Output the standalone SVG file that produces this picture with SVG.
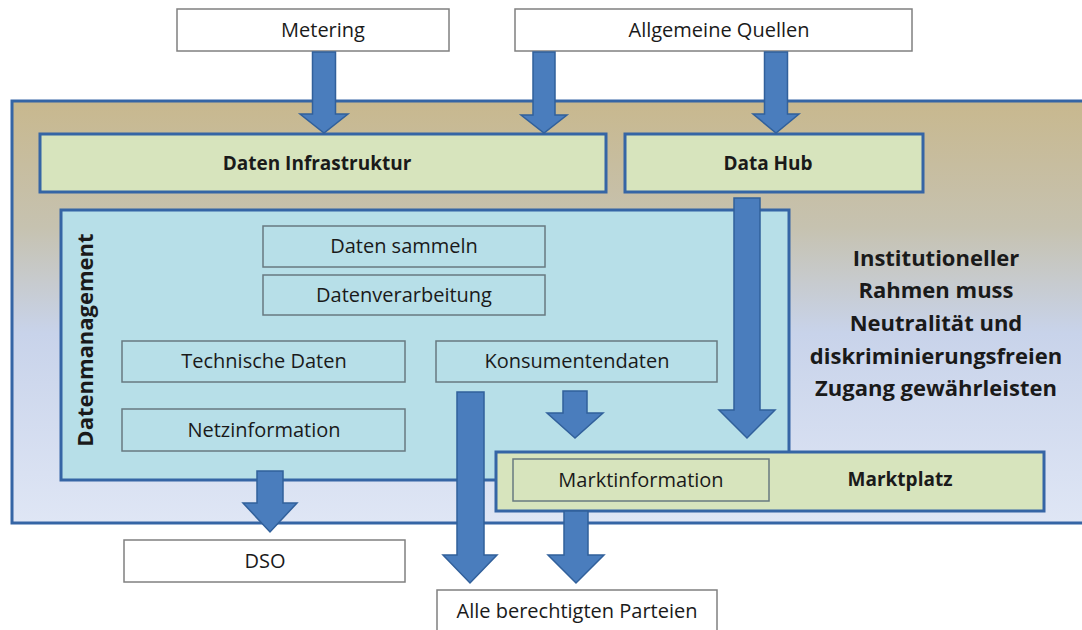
<svg xmlns="http://www.w3.org/2000/svg" width="1082" height="630" viewBox="0 0 1082 630">
  <defs>
    <linearGradient id="frameFill" x1="0" y1="0" x2="0" y2="1">
      <stop offset="0" stop-color="#c8b88e"/>
      <stop offset="0.3" stop-color="#c6c2b0"/>
      <stop offset="0.55" stop-color="#c8d3ea"/>
      <stop offset="1" stop-color="#dfe6f5"/>
    </linearGradient>
    <style>
      .frame { fill: url(#frameFill); stroke: #3565a5; stroke-width: 3; }
      .green { fill: #d7e4bd; stroke: #3565a5; stroke-width: 3; }
      .cyan { fill: #b7dfe8; stroke: #3565a5; stroke-width: 3; }
      .white { fill: #ffffff; stroke: #808080; stroke-width: 1.5; }
      .item { fill: none; stroke: #687a80; stroke-width: 1.5; }
      .arrow { fill: #4a7dbd; stroke: #31609b; stroke-width: 1.5; stroke-linejoin: miter; }
      text { font-family: "Open Sans", "Liberation Sans", sans-serif; fill: #1a1a1a; text-anchor: middle; }
      .lbl { font-size: 20px; }
      .bold { font-size: 19px; font-weight: bold; }
      .big { font-size: 22px; font-weight: bold; }
    </style>
  </defs>

  <!-- outer framework -->
  <g id="rahmen">
    <rect class="frame" x="12" y="101" width="1075" height="422"/>
    <text class="big" x="936" y="266">Institutioneller</text>
    <text class="big" x="936" y="298">Rahmen muss</text>
    <text class="big" x="936" y="331">Neutralität und</text>
    <text class="big" x="936" y="364">diskriminierungsfreien</text>
    <text class="big" x="936" y="396">Zugang gewährleisten</text>
  </g>

  <!-- sources -->
  <g id="metering">
    <rect class="white" x="177" y="9" width="272" height="42"/>
    <text class="lbl" x="323" y="37">Metering</text>
  </g>
  <g id="allgemeine-quellen">
    <rect class="white" x="515" y="9" width="397" height="42"/>
    <text class="lbl" x="719" y="37">Allgemeine Quellen</text>
  </g>

  <!-- infrastructure layer -->
  <g id="daten-infrastruktur">
    <rect class="green" x="40" y="134" width="566" height="58"/>
    <text class="bold" x="317" y="170">Daten Infrastruktur</text>
  </g>
  <g id="data-hub">
    <rect class="green" x="625" y="134" width="298" height="58"/>
    <text class="bold" x="768" y="170">Data Hub</text>
  </g>

  <!-- data management -->
  <g id="datenmanagement">
    <rect class="cyan" x="61" y="210" width="728" height="270"/>
    <text class="big" transform="translate(93 340) rotate(-90)" x="0" y="0">Datenmanagement</text>
  </g>
  <g id="daten-sammeln">
    <rect class="item" x="263" y="226" width="282" height="41"/>
    <text class="lbl" x="404" y="253">Daten sammeln</text>
  </g>
  <g id="datenverarbeitung">
    <rect class="item" x="263" y="275" width="282" height="40"/>
    <text class="lbl" x="404" y="302">Datenverarbeitung</text>
  </g>
  <g id="technische-daten">
    <rect class="item" x="122" y="341" width="283" height="41"/>
    <text class="lbl" x="264" y="368">Technische Daten</text>
  </g>
  <g id="konsumentendaten">
    <rect class="item" x="436" y="341" width="281" height="41"/>
    <text class="lbl" x="577" y="368">Konsumentendaten</text>
  </g>
  <g id="netzinformation">
    <rect class="item" x="122" y="409" width="283" height="42"/>
    <text class="lbl" x="264" y="437">Netzinformation</text>
  </g>

  <!-- market place -->
  <g id="marktplatz">
    <rect class="green" x="496" y="452" width="548" height="59"/>
    <rect class="item" x="513" y="459" width="256" height="42"/>
    <text class="lbl" x="641" y="487">Marktinformation</text>
    <text class="bold" x="900" y="486">Marktplatz</text>
  </g>

  <!-- recipients -->
  <g id="dso">
    <rect class="white" x="124" y="540" width="281" height="42"/>
    <text class="lbl" x="265" y="568">DSO</text>
  </g>
  <g id="alle-parteien">
    <rect class="white" x="437" y="590" width="280" height="45"/>
    <text class="lbl" x="577" y="618">Alle berechtigten Parteien</text>
  </g>

  <!-- block arrows -->
  <g id="connectors">
    <polygon class="arrow" points="312.5,52 335.5,52 335.5,114 348,114 324,133 300,114 312.5,114"/>
    <polygon class="arrow" points="533,52 555,52 555,115 567,115 544,133 521,115 533,115"/>
    <polygon class="arrow" points="764.5,52 787.5,52 787.5,114 799,114 776,133 753,114 764.5,114"/>
    <polygon class="arrow" points="734,198 760,198 760,410 775,410 747,438 719,410 734,410"/>
    <polygon class="arrow" points="563,391 587,391 587,413 603,413 575,438 547,413 563,413"/>
    <polygon class="arrow" points="457,392 484,392 484,555 497,555 470,583 443,555 457,555"/>
    <polygon class="arrow" points="564,511 588,511 588,555 604,555 576,583 548,555 564,555"/>
    <polygon class="arrow" points="257,471 283,471 283,503 297,503 270,532 243,503 257,503"/>
  </g>
</svg>
